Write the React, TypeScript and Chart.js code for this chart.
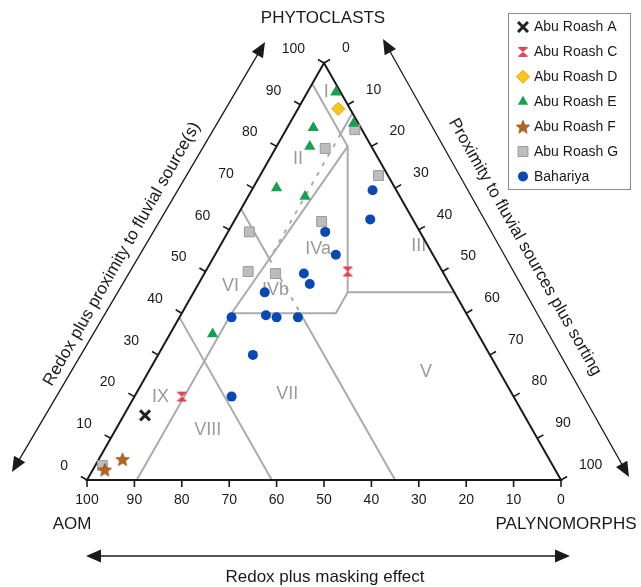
import React, { useEffect, useRef } from 'react';
import { Chart, registerables } from 'chart.js';
import { drawPoint } from 'chart.js/helpers';

Chart.register(...registerables);

// Each sample: [AOM %, Phytoclasts %, Palynomorphs %]
const abuRoashA = [[80, 15.5, 4.5]];
const abuRoashC = [[70, 20, 10], [20, 50, 30]];
const abuRoashD = [[2.5, 89, 8.5]];
const abuRoashE = [[1, 93, 6], [1, 85.5, 13.5], [10, 84.5, 5.5], [13, 80, 7], [25, 70, 5], [20, 68, 12], [56, 35, 9]];
const abuRoashF = [[90, 5, 5], [95, 2.5, 2.5]];
const abuRoashG = [[1.5, 84, 14.5], [10, 79.5, 10.5], [2, 73, 25], [19.5, 62, 18.5], [36, 59.5, 4.5], [41, 50, 9], [35.5, 49.5, 15], [95, 3.5, 1.5]];
const bahariya = [[5, 69.5, 25.5], [9, 62.5, 28.5], [20, 59.5, 20.5], [20.5, 54, 25.5], [29.5, 49.5, 21], [29.5, 47, 23.5], [40, 45, 15], [50, 39, 11], [42.5, 39.5, 18], [40.5, 39, 20.5], [36, 39, 25], [50, 30, 20], [59.5, 20, 20.5]];

const seriesNames = ['Abu Roash A', 'Abu Roash C', 'Abu Roash D', 'Abu Roash E', 'Abu Roash F', 'Abu Roash G', 'Bahariya'];
const tickValues = [0, 10, 20, 30, 40, 50, 60, 70, 80, 90, 100];

// Field names and anchors [phytoclasts %, palynomorphs %]
const regionNames = ['I', 'II', 'III', 'IVa', 'IVb', 'V', 'VI', 'VII', 'VIII', 'IX'];
const regionPhyto = [93, 77, 56, 55.5, 45.5, 26, 46.5, 20.5, 12, 20];
const regionPalyno = [4, 6, 42, 21, 17, 58.5, 7, 32, 19.5, 5.5];

// Field boundaries as polylines of [phytoclasts %, palynomorphs %]
const solidBoundaries = [
  [[95, 0], [80, 15], [45, 32.5], [45, 55]],
  [[45, 32.5], [40, 32.5], [40, 10.5]],
  [[80, 15], [40, 10.5], [0, 10.5]],
  [[88, 12], [83, 12]],
  [[65, 0], [53, 12]],
  [[40, 25], [0, 65]],
  [[39, 0], [0, 39]],
];
const dottedBoundaries = [
  [[83, 12], [53, 12]],
  [[53, 12], [40, 25]],
];

const FONT = "'Liberation Sans', Arial, sans-serif";

function makeStar(fill: string, stroke: string) {
  const c = document.createElement('canvas');
  c.width = 16; c.height = 16;
  const g = c.getContext('2d')!;
  g.beginPath();
  for (let i = 0; i < 10; i++) {
    const r = i % 2 === 0 ? 7 : 3;
    const a = -Math.PI / 2 + (i * Math.PI) / 5;
    const x = 8 + r * Math.cos(a), y = 8.8 + r * Math.sin(a);
    if (i) g.lineTo(x, y); else g.moveTo(x, y);
  }
  g.closePath();
  g.fillStyle = fill; g.fill();
  g.strokeStyle = stroke; g.lineWidth = 0.8; g.stroke();
  return c;
}

function makeHourglass(color: string) {
  const c = document.createElement('canvas');
  c.width = 12; c.height = 12;
  const g = c.getContext('2d')!;
  g.fillStyle = color;
  g.fillRect(1.5, 1, 9, 1.8);
  g.fillRect(1.5, 9.2, 9, 1.8);
  g.beginPath(); g.moveTo(2, 2.5); g.lineTo(10, 2.5); g.lineTo(6, 6); g.closePath(); g.fill();
  g.beginPath(); g.moveTo(6, 6); g.lineTo(10, 9.5); g.lineTo(2, 9.5); g.closePath(); g.fill();
  return c;
}

const toXY = (rows: number[][]) => rows.map(([, phyto, palyno]) => ({ x: palyno + phyto / 2, y: phyto }));

function arrow(ctx: CanvasRenderingContext2D, ax: number, ay: number, bx: number, by: number) {
  const len = Math.hypot(bx - ax, by - ay);
  const ux = (bx - ax) / len, uy = (by - ay) / len;
  const hl = 15, hw = 6.5;
  ctx.beginPath();
  ctx.moveTo(ax + ux * hl * 0.8, ay + uy * hl * 0.8);
  ctx.lineTo(bx - ux * hl * 0.8, by - uy * hl * 0.8);
  ctx.stroke();
  const head = (tx: number, ty: number, dx: number, dy: number) => {
    ctx.beginPath();
    ctx.moveTo(tx, ty);
    ctx.lineTo(tx - dx * hl - dy * hw, ty - dy * hl + dx * hw);
    ctx.lineTo(tx - dx * hl + dy * hw, ty - dy * hl - dx * hw);
    ctx.closePath();
    ctx.fill();
  };
  head(bx, by, ux, uy);
  head(ax, ay, -ux, -uy);
}

const ternaryPlugin = {
  id: 'ternaryFrame',
  beforeDatasetsDraw(chart: any) {
    const ctx: CanvasRenderingContext2D = chart.ctx;
    const xs = chart.scales.x, ys = chart.scales.y;
    const P = (phyto: number, palyno: number) => ({ x: xs.getPixelForValue(palyno + phyto / 2), y: ys.getPixelForValue(phyto) });
    ctx.save();
    // field boundaries
    ctx.strokeStyle = '#ababab';
    ctx.lineWidth = 2;
    const poly = (line: number[][]) => {
      ctx.beginPath();
      line.forEach(([a, b], i) => { const p = P(a, b); if (i) ctx.lineTo(p.x, p.y); else ctx.moveTo(p.x, p.y); });
      ctx.stroke();
    };
    solidBoundaries.forEach(poly);
    ctx.setLineDash([4, 7]);
    dottedBoundaries.forEach(poly);
    ctx.setLineDash([]);

    // field labels
    ctx.fillStyle = '#9a9a9a';
    ctx.font = `18px ${FONT}`;
    ctx.textAlign = 'center';
    ctx.textBaseline = 'middle';
    regionNames.forEach((n, i) => { const p = P(regionPhyto[i], regionPalyno[i]); ctx.fillText(n, p.x, p.y); });

    // triangle
    const A = P(0, 0), B = P(0, 100), T = P(100, 0);
    ctx.strokeStyle = '#1a1a1a';
    ctx.lineWidth = 2;
    ctx.beginPath();
    ctx.moveTo(A.x, A.y); ctx.lineTo(B.x, B.y); ctx.lineTo(T.x, T.y); ctx.closePath();
    ctx.stroke();

    // ticks and labels
    const lenL = Math.hypot(T.x - A.x, T.y - A.y);
    const ul = { x: (T.x - A.x) / lenL, y: (T.y - A.y) / lenL };
    const nl = { x: ul.y, y: -ul.x };
    const lenR = Math.hypot(B.x - T.x, B.y - T.y);
    const ur = { x: (B.x - T.x) / lenR, y: (B.y - T.y) / lenR };
    const nr = { x: ur.y, y: -ur.x };
    const tl = 7;
    ctx.lineWidth = 1.6;
    ctx.fillStyle = '#1a1a1a';
    ctx.font = `14px ${FONT}`;
    tickValues.forEach((v) => {
      // bottom: AOM
      const b = P(0, 100 - v);
      ctx.beginPath(); ctx.moveTo(b.x, b.y); ctx.lineTo(b.x, b.y + tl); ctx.stroke();
      ctx.textAlign = 'center'; ctx.textBaseline = 'middle';
      ctx.fillText(String(v), b.x, b.y + 20);
      // left: phytoclasts
      const l = P(v, 0);
      ctx.beginPath(); ctx.moveTo(l.x, l.y); ctx.lineTo(l.x + nl.x * tl, l.y + nl.y * tl); ctx.stroke();
      ctx.textAlign = 'right';
      ctx.fillText(String(v), l.x - 19, l.y - 14);
      // right: palynomorphs
      const r = P(100 - v, v);
      ctx.beginPath(); ctx.moveTo(r.x, r.y); ctx.lineTo(r.x + nr.x * tl, r.y + nr.y * tl); ctx.stroke();
      ctx.textAlign = 'left';
      ctx.fillText(String(v), r.x + 18, r.y - 15);
    });

    // corner titles
    ctx.font = `17px ${FONT}`;
    ctx.textAlign = 'center';
    ctx.fillText('PHYTOCLASTS', T.x - 1, 18);
    ctx.fillText('AOM', 72, 524);
    ctx.fillText('PALYNOMORPHS', 566, 524);

    // arrows
    ctx.strokeStyle = '#1a1a1a';
    ctx.fillStyle = '#1a1a1a';
    ctx.lineWidth = 1.3;
    arrow(ctx, 12, 472, 265, 42);
    arrow(ctx, 383, 39, 629, 477);
    arrow(ctx, 86, 556, 570, 556);

    ctx.font = `17px ${FONT}`;
    ctx.textAlign = 'center';
    ctx.textBaseline = 'middle';
    ctx.fillText('Redox plus masking effect', 325, 577);
    const angL = Math.atan2(T.y - A.y, T.x - A.x);
    ctx.save();
    ctx.translate(122, 254); ctx.rotate(angL);
    ctx.fillText('Redox plus proximity to fluvial source(s)', 0, 0);
    ctx.restore();
    const angR = Math.atan2(B.y - T.y, B.x - T.x);
    ctx.save();
    ctx.translate(525, 247); ctx.rotate(angR);
    ctx.fillText('Proximity to fluvial sources plus sorting', 0, 0);
    ctx.restore();
    ctx.restore();
  },
  afterDraw(chart: any) {
    const ctx: CanvasRenderingContext2D = chart.ctx;
    ctx.save();
    ctx.fillStyle = '#ffffff';
    ctx.fillRect(508, 13, 122, 176);
    ctx.strokeStyle = '#8a8a8a';
    ctx.lineWidth = 1;
    ctx.strokeRect(508.5, 13.5, 122, 176);
    chart.data.datasets.forEach((ds: any, i: number) => {
      const y = 27 + i * 24.9;
      ctx.save();
      ctx.fillStyle = ds.pointBackgroundColor;
      ctx.strokeStyle = ds.pointBorderColor;
      ctx.lineWidth = ds.pointBorderWidth;
      drawPoint(ctx, { pointStyle: ds.pointStyle, radius: ds.legendRadius, borderWidth: ds.pointBorderWidth, rotation: 0 } as any, 523, y);
      ctx.restore();
      ctx.fillStyle = '#1a1a1a';
      ctx.font = `14px ${FONT}`;
      ctx.textAlign = 'left';
      ctx.textBaseline = 'middle';
      ctx.fillText(ds.label, 534, y + 0.5);
    });
    ctx.restore();
  },
};

export default function App() {
  const ref = useRef<HTMLCanvasElement | null>(null);
  useEffect(() => {
    if (!ref.current) return;
    const star = makeStar('#b8651b', '#8a4a12');
    const hourglass = makeHourglass('#e23b4e');
    const sets = [
      { data: abuRoashA, style: 'crossRot', r: 7, lr: 7, bw: 3, bg: '#222222', bc: '#222222' },
      { data: abuRoashC, style: hourglass, r: 6, lr: 6, bw: 0, bg: '#e23b4e', bc: '#e23b4e' },
      { data: abuRoashD, style: 'rectRot', r: 6.5, lr: 6.5, bw: 1, bg: '#f6c81e', bc: '#e0a10a' },
      { data: abuRoashE, style: 'triangle', r: 6.5, lr: 6, bw: 0, bg: '#17a04f', bc: '#17a04f' },
      { data: abuRoashF, style: star, r: 7, lr: 7, bw: 0, bg: '#b8651b', bc: '#b8651b' },
      { data: abuRoashG, style: 'rect', r: 7, lr: 7, bw: 1, bg: '#bdbdbd', bc: '#9a9a9a' },
      { data: bahariya, style: 'circle', r: 5, lr: 5, bw: 0, bg: '#0b48b3', bc: '#0b48b3' },
    ];
    const chart = new Chart(ref.current, {
      type: 'scatter',
      data: {
        datasets: sets.map((s, i) => ({
          label: seriesNames[i],
          data: toXY(s.data),
          pointStyle: s.style as any,
          pointRadius: s.r,
          pointHoverRadius: s.r,
          pointBorderWidth: s.bw,
          pointBackgroundColor: s.bg,
          pointBorderColor: s.bc,
          backgroundColor: s.bg,
          borderColor: s.bc,
          legendRadius: s.lr,
          clip: false,
        })) as any,
      },
      options: {
        animation: false,
        responsive: false,
        devicePixelRatio: 1,
        layout: { padding: { left: 87, right: 80, top: 63, bottom: 107 } },
        scales: {
          x: { type: 'linear', min: 0, max: 100, display: false },
          y: { type: 'linear', min: 0, max: 100, display: false },
        },
        plugins: { legend: { display: false }, tooltip: { enabled: false } },
        events: [],
      },
      plugins: [ternaryPlugin],
    });
    return () => chart.destroy();
  }, []);
  return (
    <div style={{ position: 'absolute', left: 0, top: 0, width: 641, height: 587, background: '#ffffff' }}>
      <canvas ref={ref} width={641} height={587} style={{ width: 641, height: 587, display: 'block' }} />
    </div>
  );
}
